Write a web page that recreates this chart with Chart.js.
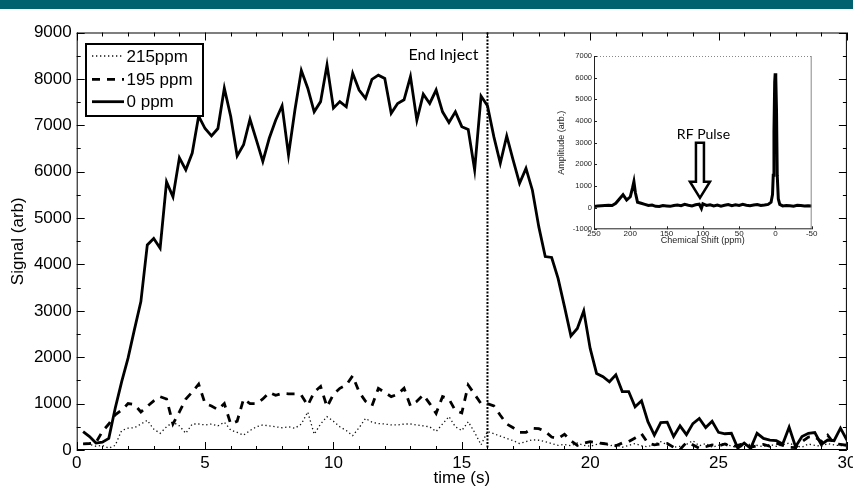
<!DOCTYPE html>
<html>
<head>
<meta charset="utf-8">
<script src="https://cdn.jsdelivr.net/npm/chart.js@4.4.1/dist/chart.umd.min.js"></script>
<style>
body{margin:0;background:#fff;}
#wrap{position:relative;width:853px;height:492px;overflow:hidden;background:#fff;}
#bar{position:absolute;left:0;top:0;width:853px;height:9px;background:#00626e;}
#main{position:absolute;left:0;top:0;}
#inset{position:absolute;left:555px;top:48px;}
</style>
</head>
<body>
<div id="wrap">
<div id="bar"></div>
<canvas id="main" width="853" height="492"></canvas>
<canvas id="inset" width="265" height="205"></canvas>
</div>
<script>
// time axis (s)
var timeS = [
  0.25,0.5,0.75,1,1.25,1.5,1.75,2,2.25,2.5,2.75,3,3.25,3.5,3.75,4,4.25,4.5,4.75,5,
  5.25,5.5,5.75,6,6.25,6.5,6.75,7,7.25,7.5,7.75,8,8.25,8.5,8.75,9,9.25,9.5,9.75,10,
  10.25,10.5,10.75,11,11.25,11.5,11.75,12,12.25,12.5,12.75,13,13.25,13.5,13.75,14,14.25,14.5,14.75,15,
  15.25,15.5,15.75,16,16.25,16.5,16.75,17,17.25,17.5,17.75,18,18.25,18.5,18.75,19,19.25,19.5,19.75,20,
  20.25,20.5,20.75,21,21.25,21.5,21.75,22,22.25,22.5,22.75,23,23.25,23.5,23.75,24,24.25,24.5,24.75,25,
  25.25,25.5,25.75,26,26.25,26.5,26.75,27,27.25,27.5,27.75,28,28.25,28.5,28.75,29,29.25,29.5,29.75,30
];
var signal0ppm = [
  395,290,150,170,250,900,1470,1980,2600,3200,4420,4560,4350,5780,5460,6300,6040,6400,7200,6930,
  6770,6930,7800,7190,6340,6580,7130,6680,6220,6720,7110,7420,6360,7330,8180,7800,7290,7510,8300,7370,
  7510,7400,8120,7760,7580,7990,8080,8010,7260,7470,7550,8050,7110,7670,7470,7760,7290,7060,7290,6970,
  6910,6040,7630,7420,6750,6180,6770,6250,5750,6070,5600,4810,4170,4150,3700,3090,2460,2620,3000,2190,
  1650,1580,1470,1620,1260,1260,930,1060,610,320,590,600,290,520,330,570,680,485,620,380,
  350,360,40,150,35,360,250,215,200,130,490,70,290,360,375,120,215,200,470,215
];
var signal195ppm = [
  130,140,160,400,560,760,860,1000,980,820,940,1060,1150,1100,560,820,1100,1250,1420,1000,
  950,870,1000,560,620,1100,1000,1000,1100,1240,1180,1220,1210,1210,1180,960,1250,1370,930,1200,
  1330,1400,1600,1250,1050,950,1330,1240,1150,1200,1330,950,1050,1190,1000,790,1150,1100,850,800,
  1400,1200,1000,1000,950,750,560,480,380,380,470,460,400,280,250,340,200,100,150,180,
  160,140,120,90,150,180,260,350,150,110,130,140,60,10,160,110,40,70,110,90,
  130,60,100,140,60,90,120,80,150,100,60,50,180,280,290,180,320,140,120,100
];
var signal215ppm = [
  130,120,80,100,40,100,420,470,480,560,640,450,360,500,600,520,360,560,560,540,
  560,520,600,430,380,320,420,500,540,520,500,480,500,470,560,820,340,560,720,620,
  500,420,310,480,680,600,570,560,540,540,560,560,540,520,500,400,560,720,500,420,
  610,380,110,400,350,300,250,200,140,180,220,210,180,140,100,120,90,150,100,80,
  120,160,90,110,60,100,140,90,70,130,180,110,60,80,120,200,90,140,60,100,
  150,80,60,90,130,100,70,120,80,110,150,90,60,130,100,80,140,110,90,130
];
var endInjectTime = 16;

// inset spectrum
var shiftPpm = [250,245,240,235,230,225,220,215,210,205,200,197,195,193,190,185,180,175,170,165,160,155,150,145,140,135,130,125,120,115,110,105,102,100,95,90,85,80,75,70,65,60,55,50,45,40,35,30,25,20,15,10,6,4,3,2,1,0.3,-0.5,-1.5,-2.5,-4,-6,-10,-15,-20,-25,-30,-35,-40,-45,-50];
var amplitude = [50,80,90,100,110,100,200,400,600,350,500,900,1200,700,250,200,150,100,120,60,50,100,80,60,100,120,90,150,110,80,130,160,-40,180,100,130,80,120,70,110,140,90,130,100,150,110,90,120,140,100,120,150,250,600,1500,3500,5800,6200,6000,4500,1500,400,150,80,100,90,70,110,100,80,90,80];
var rfPulsePpm = 104;

var fontMain = '"Liberation Sans", Arial, Helvetica, sans-serif';
var fontNote = 'Lato, "Open Sans", sans-serif';

function pts(xs, ys) {
  var out = [];
  for (var i = 0; i < xs.length; i++) out.push({x: xs[i], y: ys[i]});
  return out;
}

function line(ctx, x1, y1, x2, y2) {
  ctx.beginPath(); ctx.moveTo(x1, y1); ctx.lineTo(x2, y2); ctx.stroke();
}

// box + inward ticks on all sides, end-inject marker
var frameTicks = {
  id: 'frameTicks',
  afterDatasetsDraw: function(chart) {
    var ctx = chart.ctx, a = chart.chartArea, x = chart.scales.x, y = chart.scales.y;
    ctx.save();
    ctx.strokeStyle = '#000';
    ctx.lineWidth = 1;
    ctx.strokeRect(a.left + 0.5, a.top + 0.5, a.right - a.left - 1, a.bottom - a.top - 1);
    x.ticks.forEach(function(t) {
      var px = Math.round(x.getPixelForValue(t.value)) + 0.5;
      var len = t.value % 5 === 0 ? 8 : 4;
      line(ctx, px, a.bottom, px, a.bottom - len);
      line(ctx, px, a.top, px, a.top + len);
    });
    y.ticks.forEach(function(t) {
      var py = Math.round(y.getPixelForValue(t.value)) + 0.5;
      var len = t.value % 1000 === 0 ? 8 : 4;
      line(ctx, a.left, py, a.left + len, py);
      line(ctx, a.right, py, a.right - len, py);
    });
    // end inject
    var ex = x.getPixelForValue(endInjectTime);
    ctx.setLineDash([2, 1.5]);
    ctx.lineWidth = 2;
    line(ctx, ex, a.top, ex, a.bottom);
    ctx.setLineDash([]);
    ctx.fillStyle = '#000';
    ctx.font = '16px ' + fontNote;
    ctx.textAlign = 'right';
    ctx.textBaseline = 'middle';
    ctx.fillText('End Inject', ex - 9, a.top + 22.5);
    ctx.restore();
  }
};

var boxLegend = {
  id: 'boxLegend',
  afterDraw: function(chart) {
    var ctx = chart.ctx;
    var bx = 86, by = 44, bw = 117, bh = 72;
    ctx.save();
    ctx.fillStyle = '#fff';
    ctx.fillRect(bx, by, bw, bh);
    ctx.strokeStyle = '#000';
    ctx.lineWidth = 2;
    ctx.strokeRect(bx, by, bw, bh);
    var rows = [12, 35.3, 57.7];
    [2, 1, 0].forEach(function(di, k) {
      var ds = chart.data.datasets[di];
      var ly = by + rows[k];
      ctx.strokeStyle = ds.borderColor;
      ctx.lineWidth = ds.borderWidth;
      ctx.setLineDash(ds.borderDash || []);
      line(ctx, bx + 6, ly, bx + 38, ly);
      ctx.setLineDash([]);
      ctx.fillStyle = '#000';
      ctx.font = '17px ' + fontMain;
      ctx.textAlign = 'left';
      ctx.textBaseline = 'middle';
      ctx.fillText(ds.label, bx + 40.5, ly + 1);
    });
    ctx.restore();
  }
};

new Chart(document.getElementById('main'), {
  type: 'line',
  data: {
    datasets: [
      {label: '0 ppm', data: pts(timeS, signal0ppm), borderColor: '#000', borderWidth: 2.8, borderDash: [], pointRadius: 0, tension: 0, order: 0},
      {label: '195 ppm', data: pts(timeS, signal195ppm), borderColor: '#000', borderWidth: 2.8, borderDash: [8, 7], pointRadius: 0, tension: 0, order: 1},
      {label: '215ppm', data: pts(timeS, signal215ppm), borderColor: '#111', borderWidth: 1.3, borderDash: [1.3, 2.7], pointRadius: 0, tension: 0, order: 2}
    ]
  },
  options: {
    responsive: false,
    animation: false,
    devicePixelRatio: 1,
    layout: {padding: {top: 32.5, right: 6.1, left: 0, bottom: 0}},
    plugins: {legend: {display: false}, tooltip: {enabled: false}},
    scales: {
      x: {
        type: 'linear', min: 0, max: 30,
        grid: {display: false, drawTicks: false},
        border: {display: false},
        ticks: {stepSize: 1, autoSkip: false, maxRotation: 0, padding: 3, color: '#000',
          font: {family: fontMain, size: 17},
          callback: function(v) { return v % 5 === 0 ? String(v) : ''; }},
        title: {display: true, text: 'time (s)', color: '#000', font: {family: fontMain, size: 17}, padding: {top: 0, bottom: 3.5}},
        afterFit: function(s) { s.height = 42; s.paddingLeft = 0; s.paddingRight = 0; }
      },
      y: {
        type: 'linear', min: 0, max: 9000,
        grid: {display: false, drawTicks: false},
        border: {display: false},
        ticks: {stepSize: 500, autoSkip: false, padding: 5, color: '#000',
          font: {family: fontMain, size: 17},
          callback: function(v) { return v % 1000 === 0 ? String(v) : ''; }},
        title: {display: true, text: 'Signal (arb)', color: '#000', font: {family: fontMain, size: 17}, padding: {top: 8, bottom: 0}},
        afterFit: function(s) { s.width = 76.7; s.paddingTop = 0; s.paddingBottom = 0; }
      }
    }
  },
  plugins: [frameTicks, boxLegend]
});

var insetFrame = {
  id: 'insetFrame',
  afterDatasetsDraw: function(chart) {
    var ctx = chart.ctx, a = chart.chartArea, x = chart.scales.x, y = chart.scales.y;
    ctx.save();
    ctx.lineWidth = 1;
    ctx.strokeStyle = '#888';
    ctx.setLineDash([1, 2]);
    line(ctx, a.left, a.top + 0.5, a.right, a.top + 0.5);
    ctx.setLineDash([]);
    line(ctx, a.right - 0.5, a.top, a.right - 0.5, a.bottom);
    ctx.strokeStyle = '#222';
    line(ctx, a.left + 0.5, a.top, a.left + 0.5, a.bottom);
    line(ctx, a.left, a.bottom - 0.5, a.right, a.bottom - 0.5);
    x.ticks.forEach(function(t) {
      var px = Math.round(x.getPixelForValue(t.value)) + 0.5;
      line(ctx, px, a.bottom, px, a.bottom - 3);
    });
    y.ticks.forEach(function(t) {
      var py = Math.round(y.getPixelForValue(t.value)) + 0.5;
      line(ctx, a.left, py, a.left + 3, py);
    });
    ctx.restore();
  }
};

var rfPulse = {
  id: 'rfPulse',
  afterDraw: function(chart) {
    var ctx = chart.ctx, x = chart.scales.x, y = chart.scales.y;
    var cx = x.getPixelForValue(rfPulsePpm);
    var top = y.getPixelForValue(3000), base = y.getPixelForValue(1200), tip = y.getPixelForValue(450);
    ctx.save();
    ctx.beginPath();
    ctx.moveTo(cx - 4, top); ctx.lineTo(cx + 4, top); ctx.lineTo(cx + 4, base);
    ctx.lineTo(cx + 10, base); ctx.lineTo(cx, tip); ctx.lineTo(cx - 10, base);
    ctx.lineTo(cx - 4, base); ctx.closePath();
    ctx.fillStyle = '#fff'; ctx.fill();
    ctx.strokeStyle = '#000'; ctx.lineWidth = 2.5; ctx.lineJoin = 'miter'; ctx.stroke();
    ctx.fillStyle = '#000';
    ctx.font = '14px ' + fontNote;
    ctx.textAlign = 'center';
    ctx.textBaseline = 'middle';
    ctx.fillText('RF Pulse', cx + 3.5, top - 8.5);
    ctx.restore();
  }
};

new Chart(document.getElementById('inset'), {
  type: 'line',
  data: {datasets: [{label: 'spectrum', data: pts(shiftPpm, amplitude), borderColor: '#000', borderWidth: 3, pointRadius: 0, tension: 0}]},
  options: {
    responsive: false,
    animation: false,
    devicePixelRatio: 1,
    layout: {padding: {top: 8, right: 8.3, left: 0, bottom: 0}},
    plugins: {legend: {display: false}, tooltip: {enabled: false}},
    scales: {
      x: {
        type: 'linear', min: -50, max: 250, reverse: true,
        grid: {display: false, drawTicks: false},
        border: {display: false},
        ticks: {stepSize: 50, autoSkip: false, maxRotation: 0, padding: 0, color: '#222', font: {family: fontMain, size: 8},
          callback: function(v) { return String(v); }},
        title: {display: true, text: 'Chemical Shift (ppm)', color: '#222', font: {family: fontMain, size: 9}, padding: {top: 0, bottom: 6.8}},
        afterFit: function(s) { s.height = 23.7; s.paddingLeft = 0; s.paddingRight = 0; }
      },
      y: {
        type: 'linear', min: -1000, max: 7000,
        grid: {display: false, drawTicks: false},
        border: {display: false},
        ticks: {stepSize: 1000, autoSkip: false, padding: 2, color: '#222', font: {family: fontMain, size: 7.5},
          callback: function(v) { return String(v); }},
        title: {display: true, text: 'Amplitude (arb.)', color: '#222', font: {family: fontMain, size: 9}, padding: {top: 1.3, bottom: 0}},
        afterFit: function(s) { s.width = 39; s.paddingTop = 0; s.paddingBottom = 0; }
      }
    }
  },
  plugins: [insetFrame, rfPulse]
});
</script>
</body>
</html>
